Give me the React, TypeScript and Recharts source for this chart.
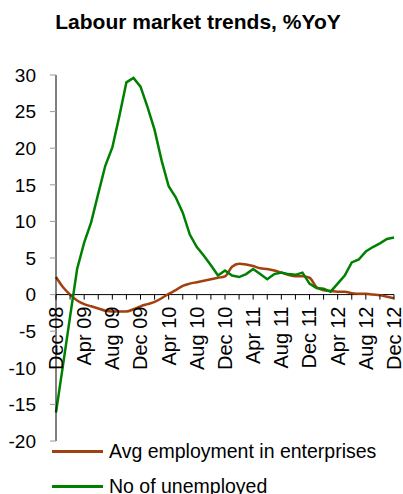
import { LineChart, Line, XAxis, YAxis, ReferenceLine } from "recharts"

const months = [
  "Dec 08",
  "Jan 09", "Feb 09", "Mar 09", "Apr 09", "May 09", "Jun 09", "Jul 09", "Aug 09", "Sep 09", "Oct 09", "Nov 09", "Dec 09",
  "Jan 10", "Feb 10", "Mar 10", "Apr 10", "May 10", "Jun 10", "Jul 10", "Aug 10", "Sep 10", "Oct 10", "Nov 10", "Dec 10",
  "Jan 11", "Feb 11", "Mar 11", "Apr 11", "May 11", "Jun 11", "Jul 11", "Aug 11", "Sep 11", "Oct 11", "Nov 11", "Dec 11",
  "Jan 12", "Feb 12", "Mar 12", "Apr 12", "May 12", "Jun 12", "Jul 12", "Aug 12", "Sep 12", "Oct 12", "Nov 12", "Dec 12",
]

const avgEmployment = [
  2.4,
  1.0, 0.0, -0.8, -1.3, -1.6, -1.9, -2.2, -2.3, -2.3, -2.3, -2.0, -1.6,
  -1.3, -1.0, -0.5, 0.1, 0.6, 1.2, 1.5, 1.7, 1.9, 2.1, 2.3, 2.5,
  3.8, 4.2, 4.1, 3.9, 3.6, 3.5, 3.3, 3.0, 2.7, 2.5, 2.5, 2.3,
  1.0, 0.6, 0.5, 0.4, 0.4, 0.2, 0.1, 0.1, 0.0, -0.1, -0.3, -0.5,
]

const unemployed = [
  -16.1,
  -9.6, -3.0, 3.5, 7.1, 9.9, 13.8, 17.6, 20.1, 24.4, 29.0, 29.6, 28.4,
  25.6, 22.5, 18.3, 14.8, 13.3, 11.2, 8.2, 6.5, 5.3, 4.0, 2.6, 3.3,
  2.6, 2.4, 2.8, 3.5, 2.8, 2.1, 2.8, 3.0, 2.8, 2.7, 3.0, 1.5,
  0.9, 0.8, 0.4, 1.5, 2.6, 4.4, 4.8, 5.9, 6.5, 7.0, 7.6, 7.8,
]

const yTicks = [-20, -15, -10, -5, 0, 5, 10, 15, 20, 25, 30]

const data = months.map((m, i) => ({
  month: m,
  emp: avgEmployment[i],
  unemp: unemployed[i],
}))

const BROWN = "#a3400f"
const GREEN = "#008000"
const FONT = "'Liberation Sans', Arial, sans-serif"

const TOP = 75
const BOTTOM = 441
const ZERO_Y = TOP + (30 / 50) * (BOTTOM - TOP)

// x axis sits on the zero line, ticks every 2 months, labels every 4
const MonthTick = (props: any) => {
  const { x, payload } = props
  const i = months.indexOf(payload.value)
  return (
    <g>
      {i % 2 === 0 && (
        <line x1={x} x2={x} y1={ZERO_Y} y2={ZERO_Y + 5} stroke="#000" />
      )}
      {i % 4 === 0 && (
        <text
          x={x}
          y={ZERO_Y + 12}
          dy="0.35em"
          transform={`rotate(-90, ${x}, ${ZERO_Y + 12})`}
          textAnchor="end"
          fontSize={20}
          fontFamily={FONT}
          fill="#000"
        >
          {payload.value}
        </text>
      )}
    </g>
  )
}

const App = () => {
  return (
    <div
      style={{
        position: "absolute",
        left: 0,
        top: 0,
        width: 403,
        height: 494,
        background: "#fff",
        fontFamily: FONT,
        overflow: "hidden",
      }}
    >
      <div
        style={{
          position: "absolute",
          left: 0,
          top: 10,
          width: 396,
          textAlign: "center",
          fontWeight: "bold",
          fontSize: 21,
        }}
      >
        Labour market trends, %YoY
      </div>

      <LineChart
        width={403}
        height={494}
        data={data}
        margin={{ top: TOP, right: 9, left: 0, bottom: 494 - BOTTOM - 1 }}
      >
        <XAxis
          dataKey="month"
          height={1}
          axisLine={false}
          tickLine={false}
          interval={0}
          tick={(p: any) => <MonthTick {...p} />}
        />
        <YAxis
          domain={[-20, 30]}
          ticks={yTicks}
          width={56}
          interval={0}
          axisLine={{ stroke: "#000" }}
          tickLine={{ stroke: "#999" }}
          tickSize={6}
          tickMargin={14}
          tick={{ fill: "#000", fontSize: 19, fontFamily: FONT }}
        />
        <ReferenceLine y={0} stroke="#000" strokeWidth={1} />
        <Line
          type="monotone"
          dataKey="emp"
          stroke={BROWN}
          strokeWidth={2.5}
          dot={false}
          isAnimationActive={false}
        />
        <Line
          type="linear"
          dataKey="unemp"
          stroke={GREEN}
          strokeWidth={2.5}
          dot={false}
          isAnimationActive={false}
        />
      </LineChart>

      <div style={{ position: "absolute", left: 52, top: 434, fontSize: 19.5 }}>
        {[
          { label: "Avg employment in enterprises", color: BROWN },
          { label: "No of unemployed", color: GREEN },
        ].map((item) => (
          <div
            key={item.label}
            style={{ display: "flex", alignItems: "center", height: 35 }}
          >
            <span
              style={{
                display: "inline-block",
                width: 51,
                height: 3,
                background: item.color,
                marginRight: 6,
              }}
            />
            <span>{item.label}</span>
          </div>
        ))}
      </div>
    </div>
  )
}

export default App
